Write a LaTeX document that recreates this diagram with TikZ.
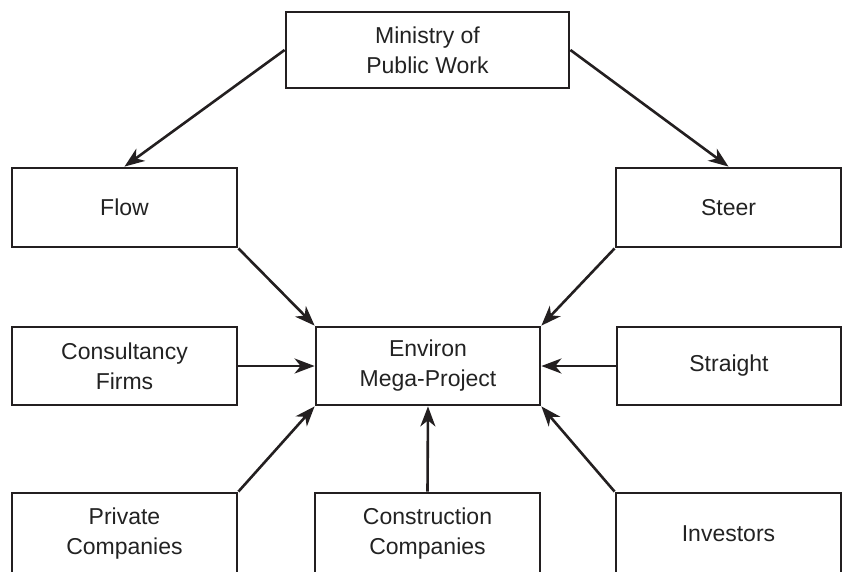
\documentclass[tikz,border=0pt]{standalone}
\usepackage{fontspec}
\setmainfont{Liberation Sans}
\usetikzlibrary{arrows.meta}
\definecolor{ink}{HTML}{231F20}
\definecolor{txt}{HTML}{222222}
\begin{document}
\begin{tikzpicture}[x=1pt,y=-1pt,
  box/.style={draw=ink, line width=2.8pt, inner sep=0pt, align=center,
    text=txt, font=\fontsize{23}{30}\selectfont},
  link/.style={draw=ink, line width=2.6pt,
    -{Stealth[length=20pt, width=15pt, inset=6pt]}}]
  \useasboundingbox (0,0) rectangle (844,571);
  \clip (0,0) rectangle (844,571);
  % top level
  \node[box, minimum width=283pt, minimum height=76pt] (min) at (427.5,50) {Ministry of\\Public Work};
  \node[box, minimum width=225pt, minimum height=79pt] (flow) at (124.5,207.5) {Flow};
  \node[box, minimum width=225pt, minimum height=79pt] (steer) at (728.5,207.5) {Steer};
  % middle row
  \node[box, minimum width=225pt, minimum height=78pt] (cons) at (124.5,366) {Consultancy\\Firms};
  \node[box, minimum width=224pt, minimum height=78pt] (env) at (428,366) {Environ\\Mega-Project};
  \node[box, minimum width=224pt, minimum height=78pt] (str) at (729,366) {Straight};
  % bottom row, running off the lower edge
  \node[box, minimum width=225pt, minimum height=82pt] (priv) at (124.5,534) {Private\\Companies};
  \node[box, minimum width=225pt, minimum height=82pt] (constr) at (427.5,534) {Construction\\Companies};
  \node[box, minimum width=225pt, minimum height=82pt] (inv) at (728.5,534) {Investors};
  % connectors
  \draw[link] (min.west) -- (flow.north);
  \draw[link] (min.east) -- (steer.north);
  \draw[link] (flow.south east) -- (env.north west);
  \draw[link] (steer.south west) -- (env.north east);
  \draw[link] (cons.east) -- (env.west);
  \draw[link] (str.west) -- (env.east);
  \draw[link] (priv.north east) -- (env.south west);
  \draw[link] (constr.north) -- (env.south);
  \draw[link] (inv.north west) -- (env.south east);
\end{tikzpicture}
\end{document}
